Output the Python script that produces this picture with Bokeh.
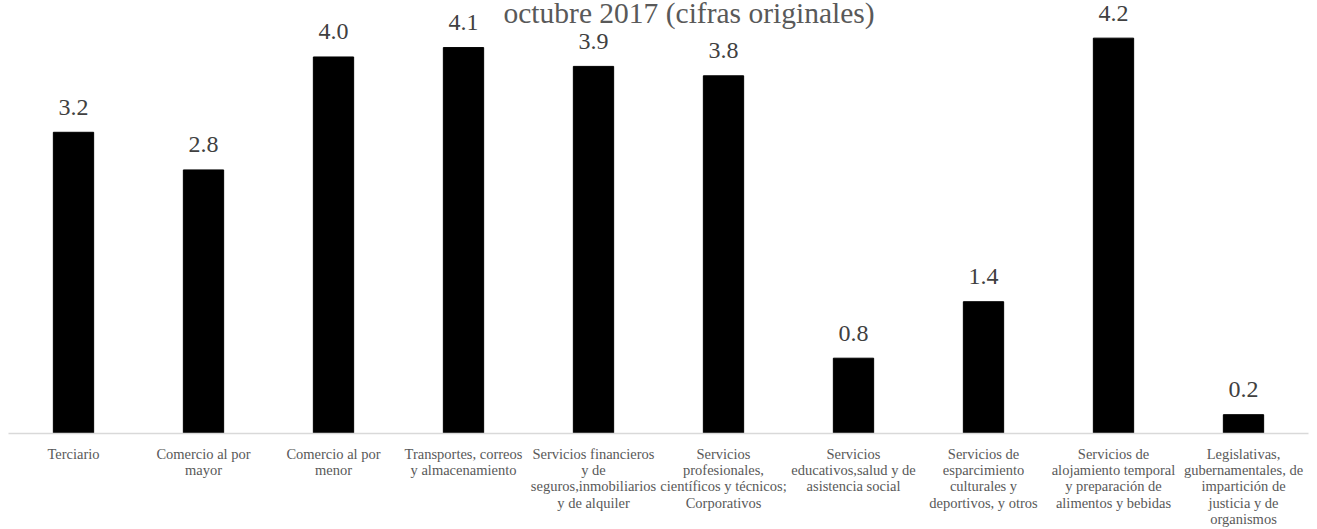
from bokeh.plotting import figure
from bokeh.models import ColumnDataSource, FactorRange, Range1d, Label
from bokeh.core.properties import value
from bokeh.embed import file_html
from bokeh.resources import INLINE

# Sector names (line breaks as in the axis labels) and their values
categories = [
    "Terciario",
    "Comercio al por\nmayor",
    "Comercio al por\nmenor",
    "Transportes, correos\ny almacenamiento",
    "Servicios financieros\ny de\nseguros,inmobiliarios\ny de alquiler",
    "Servicios\nprofesionales,\ncientíficos y técnicos;\nCorporativos",
    "Servicios\neducativos,salud y de\nasistencia social",
    "Servicios de\nesparcimiento\nculturales y\ndeportivos, y otros",
    "Servicios de\nalojamiento temporal\ny preparación de\nalimentos y bebidas",
    "Legislativas,\ngubernamentales, de\nimpartición de\njusticia y de\norganismos",
]
values = [3.2, 2.8, 4.0, 4.1, 3.9, 3.8, 0.8, 1.4, 4.2, 0.2]
title_text = "octubre 2017 (cifras originales)"

SERIF = "Liberation Serif"

src = ColumnDataSource(dict(
    cat=categories,
    val=values,
    lbl=[f"{v:.1f}" for v in values],
))

p = figure(
    x_range=FactorRange(factors=categories, range_padding=0),
    y_range=Range1d(0, 4.6),
    frame_width=1300, frame_height=433,
    min_border_left=8, min_border_right=9, min_border_top=0, min_border_bottom=0,
    output_backend="svg", toolbar_location=None,
)
p.outline_line_color = None
p.background_fill_color = "white"
p.border_fill_color = "white"
p.grid.visible = False
p.yaxis.visible = False

xa = p.xaxis[0]
xa.axis_line_color = "#d9d9d9"
xa.axis_line_width = 1.3
xa.major_tick_line_color = None
xa.minor_tick_line_color = None
xa.major_tick_out = 0
xa.major_label_standoff = 12
xa.major_label_text_font = SERIF
xa.major_label_text_font_size = "14.5px"
xa.major_label_text_color = "#595959"
xa.major_label_text_line_height = 1.03

p.vbar(x="cat", top="val", width=0.31, source=src,
       fill_color="black", line_color="black")

p.text(x="cat", y="val", text="lbl", source=src,
       text_align="center", text_baseline="alphabetic", y_offset=-25,
       text_font=value(SERIF), text_font_size="24px", text_color="#404040")

title = Label(x=5.235, y=4.47, text=title_text,
              text_align="center", text_baseline="alphabetic",
              text_font=SERIF, text_font_size="29.5px", text_color="#595959")
p.add_layout(title)

open("out.html", "w").write(file_html(p, INLINE))
